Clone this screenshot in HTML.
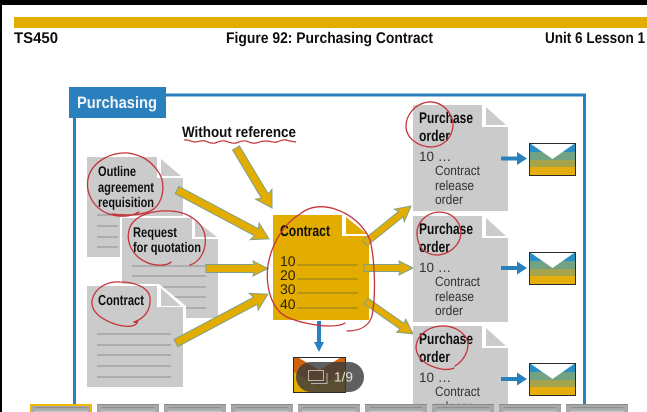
<!DOCTYPE html>
<html><head><meta charset="utf-8"><style>
html,body{margin:0;padding:0;background:#fff;width:647px;height:412px;overflow:hidden}
svg{display:block}
text{font-family:"Liberation Sans",sans-serif}
.b{font-weight:bold;fill:#111}
.r{fill:#333}
</style></head><body>
<svg xmlns="http://www.w3.org/2000/svg" xmlns:xlink="http://www.w3.org/1999/xlink" width="647" height="412" viewBox="0 0 647 412" text-rendering="geometricPrecision">
<defs>
<filter id="soft" x="0" y="0" width="100%" height="100%"><feGaussianBlur stdDeviation="0.35"/></filter>
<g id="envelope">
<rect x="0" y="0" width="47" height="33" fill="#2a2a2a"/>
<rect x="1" y="1" width="45" height="8" fill="#2b8fc4"/>
<rect x="1" y="9" width="45" height="8" fill="#6fa283"/>
<rect x="1" y="17" width="45" height="7" fill="#a5a44d"/>
<rect x="1" y="24" width="45" height="8" fill="#e5ae08"/>
<polygon points="2,1 45,1 23.500,16" fill="#fff"/>
</g>
<g id="blue"><rect x="0" y="-2" width="17" height="4" fill="#2a7fbd"/><polygon points="16,-6.500 26,0 16,6.500" fill="#2a7fbd"/></g>
<g id="pdoc">
<polygon points="0,0 69,0 69,22 95,22 95,106 0,106" fill="#cbcbcb"/>
<polygon points="73,2 93,20 73,20" fill="#cbcbcb"/>
<text x="6" y="18" class="b" font-size="15.500" textLength="54" lengthAdjust="spacingAndGlyphs">Purchase</text>
<text x="6" y="36" class="b" font-size="15.500" textLength="31" lengthAdjust="spacingAndGlyphs">order</text>
<text x="6" y="56" class="r" font-size="13.500">10 …</text>
<text x="22" y="70" class="r" font-size="13.500" textLength="45" lengthAdjust="spacingAndGlyphs">Contract</text>
<text x="22" y="85" class="r" font-size="13.500" textLength="39" lengthAdjust="spacingAndGlyphs">release</text>
<text x="22" y="99" class="r" font-size="13.500" textLength="28" lengthAdjust="spacingAndGlyphs">order</text>
</g>
<g id="thumb">
<rect x="0" y="0" width="62" height="8" fill="#a8a8a8"/>
<rect x="0" y="0" width="62" height="1" fill="#8a8a8a"/>
<rect x="5" y="3" width="52" height="1" fill="#8e8e8e"/>
<rect x="4" y="6.500" width="54" height="1.500" fill="#bcc4c0"/>
</g>
</defs>
<g filter="url(#soft)">
<rect x="0" y="0" width="647" height="412" fill="#fff"/>
<rect x="0" y="0" width="647" height="5" fill="#000"/>
<rect x="0" y="0" width="2" height="412" fill="#000"/>
<rect x="14" y="17" width="633" height="11" fill="#e3ad00"/>
<text x="14" y="43" class="b" font-size="15.500" textLength="44" lengthAdjust="spacingAndGlyphs">TS450</text>
<text x="226" y="43" class="b" font-size="15.500" textLength="207" lengthAdjust="spacingAndGlyphs">Figure 92: Purchasing Contract</text>
<text x="545" y="43" class="b" font-size="15.500" textLength="100" lengthAdjust="spacingAndGlyphs">Unit 6 Lesson 1</text>

<path d="M74.500 412V95H584.500V412" fill="none" stroke="#2a7fbd" stroke-width="3"/>
<rect x="69" y="87" width="97" height="31" fill="#2a7fbd"/>
<text x="77" y="108" font-size="16.500" font-weight="bold" fill="#eef5fa" textLength="80" lengthAdjust="spacingAndGlyphs">Purchasing</text>

<text x="182" y="137" class="b" font-size="15" textLength="114" lengthAdjust="spacingAndGlyphs">Without reference</text>
<path d="M184 140c4,-1 7,2 11,2s6,-2 10,-1 6,3 10,2 6,-3 10,-2 7,3 11,2 6,-3 10,-2 6,3 10,2 6,-2 10,-2 8,2 11,1 6,-3 9,-2 10,2 10,2" fill="none" stroke="#c4343d" stroke-width="1.200"/>

<!-- doc 1 -->
<polygon points="87,157 157,157 157,178 183,178 183,257 87,257" fill="#cbcbcb"/>
<polygon points="161,159 181,176 161,176" fill="#cbcbcb"/>
<g stroke="#8f8f8f" stroke-width="1"><path d="M97 215H118M97 226H118M97 237H118M97 247H118"/></g>
<text x="98" y="176" class="b" font-size="14" textLength="38" lengthAdjust="spacingAndGlyphs">Outline</text>
<text x="98" y="192" class="b" font-size="14" textLength="56" lengthAdjust="spacingAndGlyphs">agreement</text>
<text x="98" y="207" class="b" font-size="14" textLength="56" lengthAdjust="spacingAndGlyphs">requisition</text>

<!-- doc 2 -->
<polygon points="120,216 190,216 190,237 220,237 220,320 120,320" fill="#fff"/>
<polygon points="122,218 192,218 192,239 218,239 218,318 122,318" fill="#cbcbcb"/>
<polygon points="195,220 217,237 195,237" fill="#cbcbcb"/>
<g stroke="#8f8f8f" stroke-width="1"><path d="M132 266H206M132 276H206M132 287H206M132 297H206M132 308H206"/></g>
<text x="133" y="237" class="b" font-size="14" textLength="44" lengthAdjust="spacingAndGlyphs">Request</text>
<text x="133" y="252" class="b" font-size="14" textLength="68" lengthAdjust="spacingAndGlyphs">for quotation</text>

<!-- doc 3 -->
<polygon points="85,284 159,284 186,306 186,390 85,390" fill="#fff"/>
<polygon points="87,286 157,286 157,307 183,307 183,387 87,387" fill="#cbcbcb"/>
<polygon points="161,288 181,306 161,306" fill="#cbcbcb"/>
<g stroke="#8f8f8f" stroke-width="1"><path d="M97 334H171M97 345H171M97 355H171M97 366H171M97 377H171"/></g>
<text x="98" y="305" class="b" font-size="14.500" textLength="46" lengthAdjust="spacingAndGlyphs">Contract</text>

<!-- central doc -->
<polygon points="273,215 342,215 342,236 369,236 369,320 273,320" fill="#e3ad00"/>
<polygon points="346,217 367,234 346,234" fill="#e3ad00"/>
<text x="280" y="236" class="b" font-size="15.500" textLength="50" lengthAdjust="spacingAndGlyphs">Contract</text>
<g font-size="14" fill="#2c2208">
<text x="280" y="266">10</text><text x="280" y="280">20</text><text x="280" y="294">30</text><text x="280" y="309">40</text>
</g>
<g stroke="#8b7a20" stroke-width="1"><path d="M297 265H358M297 279H358M297 293H358M297 308H358"/></g>

<!-- yellow arrows -->
<g fill="#e3ad00" stroke="#7f9f8d" stroke-width="1" stroke-linejoin="miter">
<polygon transform="translate(236,148) rotate(59)" points="0,-4 56,-4 54,-9.500 70,0 54,9.500 56,4 0,4"/>
<polygon transform="translate(177,190) rotate(28)" points="0,-4 90,-4 88,-9.500 104,0 88,9.500 90,4 0,4"/>
<polygon transform="translate(206,268.500)" points="0,-4 48,-4 47,-7.500 62,0 47,7.500 48,4 0,4"/>
<polygon transform="translate(176,343) rotate(-28)" points="0,-4 90,-4 88,-9.500 104,0 88,9.500 90,4 0,4"/>
<polygon transform="translate(365,243) rotate(-38.800)" points="0,-3.500 46,-3.500 44,-8 59,0 44,8 46,3.500 0,3.500"/>
<polygon transform="translate(364,268)" points="0,-3.500 36,-3.500 35,-7 49,0 35,7 36,3.500 0,3.500"/>
<polygon transform="translate(366,301) rotate(35)" points="0,-3.500 44,-3.500 43,-8 57.400,0 43,8 44,3.500 0,3.500"/>
</g>

<!-- blue arrow down -->
<rect x="317" y="321" width="4" height="22" fill="#2a7fbd"/>
<polygon points="314,342 324,342 319,352" fill="#2a7fbd"/>

<!-- right docs -->
<use xlink:href="#pdoc" href="#pdoc" x="413" y="105"/>
<use xlink:href="#pdoc" href="#pdoc" x="413" y="216"/>
<use xlink:href="#pdoc" href="#pdoc" x="413" y="326"/>

<use xlink:href="#envelope" href="#envelope" x="529" y="143"/>
<use xlink:href="#envelope" href="#envelope" x="529" y="252"/>
<use xlink:href="#envelope" href="#envelope" x="529" y="363"/>
<use xlink:href="#blue" href="#blue" x="501" y="158.500"/>
<use xlink:href="#blue" href="#blue" x="501" y="268"/>
<use xlink:href="#blue" href="#blue" x="501" y="379"/>

<!-- bottom envelope -->
<rect x="293" y="357" width="53" height="36" fill="#2a2a2a"/>
<rect x="294" y="358" width="51" height="34" fill="#e3ad00"/>
<polygon points="294,358 345,358 345,372 319.500,386 294,372" fill="#d2640f"/>
<polygon points="299,358 340,358 319.500,370" fill="#fff"/>

<!-- red annotations -->
<g fill="none" stroke="#c4343d" stroke-width="1.300" stroke-linecap="round">
<path d="M128,153 C112,152 95,160 89,175 C84,190 92,208 109,214 C122,218 132,216 139,212 M112,214 C130,216 148,215 156,207 C164,198 166,181 157,170 C149,159 140,155 128,153"/>
<path d="M171,211 C155,210 136,214 130,227 C125,240 131,256 148,263 C156,266 167,266 171,262 M190,265 C200,262 207,250 205,236 C203,222 188,212 171,211"/>
<path d="M120,282 C106,281 94,289 92,301 C91,313 104,321 118,325 C128,327 134,327 137,323 C139,319 135,324 134,322 C146,318 151,308 150,298 C149,288 136,282 120,282Z"/>
<path d="M300,214 C285,223 272,242 268,265 C265,287 272,310 287,317 C300,323 318,326 330,326 C338,326 342,325 345,323 M347,331 C360,331 369,326 372,316 C376,296 375,260 370,240 C364,225 350,214 335,209 C322,205 310,206 300,214"/>
<path d="M428,102 C414,104 406,116 406,126 C406,138 418,147 432,147 C445,146 453,136 453,124 C452,112 442,101 428,102"/>
<path d="M439,212 C425,213 416,224 417,235 C418,247 424,254 436,255 C450,255 461,244 461,232 C460,221 452,212 439,212"/>
<path d="M441,326 C426,327 416,337 416,348 C417,359 427,366 441,369 C448,370 452,369 454,368 M455,366 C463,361 468,353 468,344 C467,334 455,325 441,326"/>
</g>

<!-- pill -->
<rect x="296" y="362" width="68" height="30" rx="15" fill="#3c3c3c" fill-opacity="0.82"/>
<g fill="none" stroke="#b8b4aa" stroke-width="1">
<rect x="308.500" y="370.500" width="15" height="10"/>
<path d="M311 383.500H327V373"/>
</g>
<text x="334" y="381.500" font-size="13.500" fill="#e6e2d8" textLength="19" lengthAdjust="spacingAndGlyphs">1/9</text>

<!-- thumbnails -->
<use xlink:href="#thumb" href="#thumb" x="30" y="404"/>
<rect x="31" y="405" width="60" height="8" fill="none" stroke="#f0b800" stroke-width="2"/>
<use xlink:href="#thumb" href="#thumb" x="97" y="404"/>
<use xlink:href="#thumb" href="#thumb" x="164" y="404"/>
<use xlink:href="#thumb" href="#thumb" x="231" y="404"/>
<use xlink:href="#thumb" href="#thumb" x="298" y="404"/>
<use xlink:href="#thumb" href="#thumb" x="365" y="404"/>
<use xlink:href="#thumb" href="#thumb" x="432" y="404"/>
<use xlink:href="#thumb" href="#thumb" x="499" y="404"/>
<use xlink:href="#thumb" href="#thumb" x="566" y="404"/>
</g>
</svg>
</body></html>
